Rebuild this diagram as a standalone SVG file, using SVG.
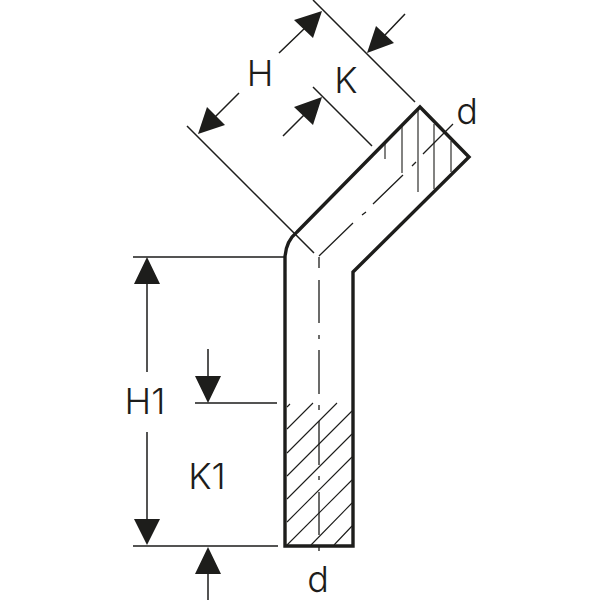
<svg xmlns="http://www.w3.org/2000/svg" width="600" height="600" viewBox="0 0 600 600">
<style>
.o{fill:none;stroke:#1d1d1b;stroke-width:3.4;stroke-linejoin:miter}
.t{fill:none;stroke:#1d1d1b;stroke-width:1.5}
.h{fill:none;stroke:#1d1d1b;stroke-width:1.1}
.c{fill:none;stroke:#1d1d1b;stroke-width:1.3}
.a{fill:#1d1d1b;stroke:none}
text{font-family:"Inter","Liberation Sans",Arial,sans-serif;font-weight:300;font-size:36px;fill:#1d1d1b;text-anchor:middle}
</style>
<rect width="600" height="600" fill="#fff"/>
<g id="fitting">
<path class="o" d="M297 232L420 107L469 157L353 272V546H285V257Q286 241 297 232"/>
</g>
<g id="hatching">
<path class="h" d="M385 143V159M402 126V173M418 108V192M434 124V189M451 141V172"/>
<path class="h" d="M287 407L290 404M287 429L313 403M287 453L337 403M287 476L352 411M287 499L352 434M287 522L352 457M287 545L352 480M311 545L352 503M334 545L352 526"/>
</g>
<g id="centerlines">
<path class="c" d="M319 256L353 223M362 215L366 212M373 204L403 175M412 166L416 162M423 154L453 124"/>
<path class="c" d="M319 257V268M319 280V323M319 335V339M319 350V394M319 405V410M319 421V465M319 476V480M319 492V535M319 547V551"/>
</g>
<g id="dimensions">
<path class="t" d="M313 0L415 102M313 87L372 146M187 126L314 253M279 53L305 28M239 93L215 117M405 14L385 35M283 136L305 114"/>
<path class="t" d="M133 257H285M133 546H278M195 403H277M147 284V372M147 432V520M208 349V376M208 574V600"/>
<path class="a" d="M322 11L294 20L313 38ZM198 134L207 107L225 125ZM367 53L376 26L394 43ZM322 97L294 107L313 125Z"/>
<path class="a" d="M147 257L134 284H160ZM147 545L134 519H160ZM208 403L195 376H221ZM208 547L195 574H221Z"/>
</g>
<g id="labels">
<text x="260" y="86">H</text>
<text x="346" y="93">K</text>
<text x="467" y="124">d</text>
<text x="145" y="414">H1</text>
<text x="207" y="489">K1</text>
<text x="318" y="592">d</text>
</g>
</svg>
